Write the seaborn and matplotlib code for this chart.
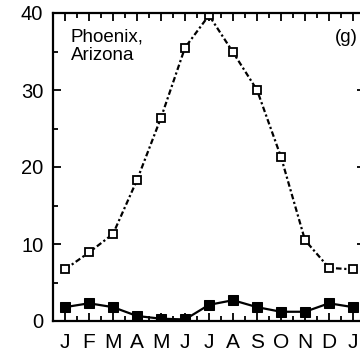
import numpy as np
import pandas as pd
import matplotlib
matplotlib.use("Agg")
import matplotlib.pyplot as plt
import seaborn as sns
from matplotlib.ticker import MultipleLocator

months = ["J", "F", "M", "A", "M", "J", "J", "A", "S", "O", "N", "D", "J"]
open_vals = [6.7, 8.9, 11.3, 18.3, 26.4, 35.5, 39.7, 34.9, 30.0, 21.3, 10.5, 6.9, 6.7]
filled_vals = [1.8, 2.3, 1.8, 0.65, 0.3, 0.2, 2.1, 2.7, 1.8, 1.2, 1.2, 2.3, 1.8]

sns.set_theme(style="ticks")
plt.rcParams['font.family'] = ['Liberation Sans', 'DejaVu Sans']
plt.rcParams['text.color'] = 'black'
plt.rcParams['xtick.color'] = 'black'
plt.rcParams['ytick.color'] = 'black'
plt.rcParams['xtick.labelcolor'] = 'black'
plt.rcParams['ytick.labelcolor'] = 'black'

idx = list(range(len(months)))
df = pd.DataFrame({"idx": idx, "open": open_vals, "filled": filled_vals})

fig = plt.figure(figsize=(3.6, 3.58), dpi=100)
ax = fig.add_axes([53/360, 37/358, 312/360, 308/358])

sns.lineplot(data=df, x="idx", y="open", ax=ax, color="black", lw=1.6,
             linestyle=(0, (2.5, 1.2, 1, 1.2)), marker="s", markersize=5.5,
             markerfacecolor="white", markeredgecolor="black", markeredgewidth=1.3)
sns.lineplot(data=df, x="idx", y="filled", ax=ax, color="black", lw=1.6,
             marker="s", markersize=7, markerfacecolor="black", markeredgecolor="black")

ax.set_xlim(-0.5, 12.5)
ax.set_ylim(0, 40)
ax.set_xticks(idx)
ax.set_xticklabels(months)
ax.xaxis.set_minor_locator(MultipleLocator(0.5))
ax.yaxis.set_major_locator(MultipleLocator(10))
ax.yaxis.set_minor_locator(MultipleLocator(5))
ax.tick_params(which="both", direction="in", top=True, right=True, width=1.3, color="black")
ax.tick_params(which="major", length=6)
ax.tick_params(which="minor", length=3.5)
ax.tick_params(axis="x", labelsize=15, pad=9)
ax.tick_params(axis="y", labelsize=14.5, pad=7)
ax.set_xlabel("")
ax.set_ylabel("")
for s in ax.spines.values():
    s.set_linewidth(1.6)
    s.set_color("black")

fig.text(71/360, 1 - 29/358, "Phoenix,\nArizona", fontsize=13.5, va="top", ha="left",
         linespacing=1.05, color="black")
fig.text(346/360, 1 - 37/358, "(g)", fontsize=13.5, ha="center", va="center", color="black")

fig.savefig("out.png", dpi=100)
